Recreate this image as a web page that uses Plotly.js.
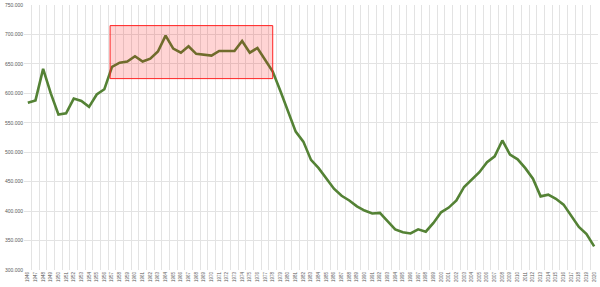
<!DOCTYPE html>
<html>
<head>
<meta charset="utf-8">
<script src="https://cdn.plot.ly/plotly-3.0.1.min.js"></script>
<style>html,body{margin:0;padding:0;background:#fff;}#chart{width:600px;height:287px;}</style>
</head>
<body>
<div id="chart"></div>
<script>
const years = [];
for (let y = 1946; y <= 2020; y++) years.push(String(y));

const births = [
  584000, 588000, 641500, 600000, 564000, 566000, 591000, 587000, 577000, 598000,
  607000, 645000, 652000, 654000, 663000, 654000, 659000, 671000, 698000, 676000,
  669000, 680000, 667000, 666000, 664000, 672000, 672000, 672000, 689000, 669000,
  677000, 658000, 637000, 604000, 570000, 535000, 518000, 487000, 473000, 455000,
  438000, 426000, 418000, 408000, 401000, 396000, 397000, 383000, 369000, 364000,
  362000, 369000, 365000, 380000, 398000, 406000, 418000, 441000, 453000, 466000,
  483000, 493000, 520000, 496000, 488000, 473000, 455000, 425000, 428000, 421000,
  411000, 392000, 373000, 361000, 340000
];

const trace = {
  x: years,
  y: births,
  type: 'scatter',
  mode: 'lines',
  line: {color: '#548235', width: 2.6},
  hoverinfo: 'x+y'
};

const layout = {
  width: 600,
  height: 287,
  margin: {l: 24, r: 2, t: 5, b: 17},
  paper_bgcolor: '#ffffff',
  plot_bgcolor: '#ffffff',
  separators: ',.',
  showlegend: false,
  font: {family: 'Liberation Sans, Arial, sans-serif', size: 5, color: '#595959'},
  xaxis: {
    type: 'category',
    range: [-0.5, 74.5],
    tickson: 'boundaries',
    showgrid: true,
    gridcolor: '#e3e3e3',
    gridwidth: 1,
    ticks: '',
    tickangle: -90,
    tickfont: {size: 4.5, color: '#595959'},
    showline: false,
    zeroline: false,
    automargin: false
  },
  yaxis: {
    range: [300000, 750000],
    dtick: 50000,
    tickformat: ',d',
    showgrid: true,
    gridcolor: '#e3e3e3',
    gridwidth: 1,
    ticks: '',
    tickfont: {size: 5, color: '#595959'},
    zeroline: false,
    showline: false,
    automargin: false
  },
  shapes: [{
    type: 'rect',
    xref: 'x', yref: 'y',
    x0: 10.75, x1: 32,
    y0: 625000, y1: 715000,
    line: {color: '#ff2020', width: 1},
    fillcolor: 'rgba(255,0,0,0.17)',
    layer: 'above'
  }]
};

Plotly.newPlot('chart', [trace], layout, {staticPlot: true, displayModeBar: false});
</script>
</body>
</html>
